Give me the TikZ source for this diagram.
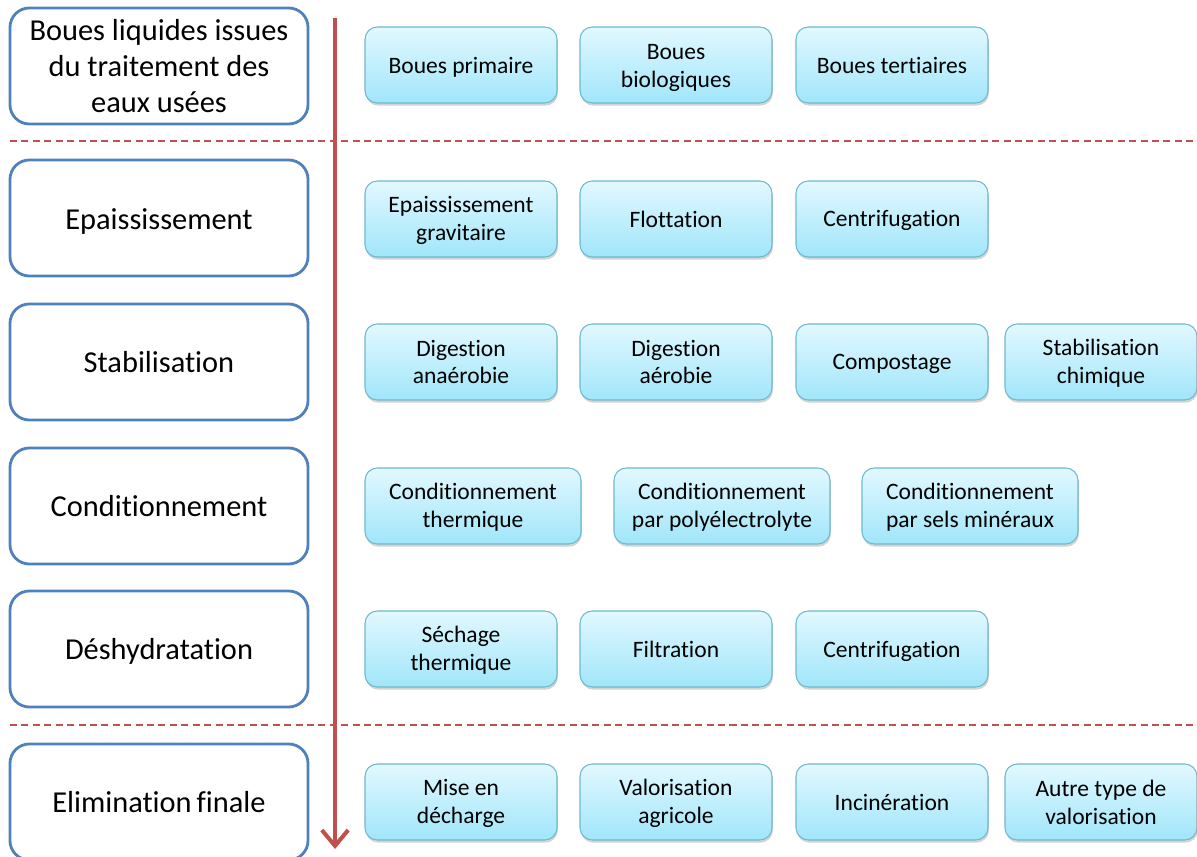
\documentclass[tikz,border=0pt]{standalone}
\usepackage{fontspec}
\setmainfont[Ligatures=NoCommon]{Carlito}
\usetikzlibrary{arrows.meta,shadows}

\definecolor{stageblue}{RGB}{79,129,189}
\definecolor{flowred}{RGB}{192,80,77}
\definecolor{boxtop}{RGB}{226,248,255}
\definecolor{boxbot}{RGB}{160,230,250}
\definecolor{boxline}{RGB}{110,185,205}

% lower the text inside a node, keeping the node's size
\newcommand{\lowr}[2][-1.1pt]{\raisebox{#1}[\height][\depth]{\begin{tabular}{@{}c@{}}#2\end{tabular}}}

\tikzset{
  stage/.style={draw=stageblue, line width=1.6pt, rounded corners=11pt, fill=white,
    minimum width=298*0.02cm, minimum height=116*0.02cm, align=center,
    font=\fontsize{17.3}{20.5}\selectfont},
  proc/.style={draw=boxline, line width=0.6pt, rounded corners=7pt,
    top color=boxtop, bottom color=boxbot,
    drop shadow={shadow xshift=0.5pt, shadow yshift=-1.5pt, opacity=0.35},
    minimum width=192*0.02cm, minimum height=76*0.02cm, align=center,
    font=\fontsize{13.4}{15.9}\selectfont},
  wideproc/.style={proc, minimum width=216*0.02cm},
  sep/.style={flowred, line width=0.8pt, dash pattern=on 4pt off 2.5pt}
}

\begin{document}
\begin{tikzpicture}[x=0.02cm,y=-0.02cm]
	\clip (0,0) rectangle (1197,857);
	\useasboundingbox (0,0) rectangle (1197,857);
	% stages on the left
	\node[stage] (sBoues) at (159,66) {Boues liquides issues\\du traitement des\\eaux usées};
	\node[stage] (sEpais) at (159,218) {\lowr[-2.3pt]{Epaississement}};
	\node[stage] (sStab) at (159,362) {Stabilisation};
	\node[stage] (sCond) at (159,506) {Conditionnement};
	\node[stage] (sDesh) at (159,649) {\lowr[-1.7pt]{Déshydratation}};
	\node[stage] (sElim) at (159,802) {Elimination\,finale};
	% separators
	\coordinate (sepAL) at (10,141);
	\coordinate (sepAR) at (1197,141);
	\coordinate (sepBL) at (10,725);
	\coordinate (sepBR) at (1197,725);
	\draw[sep] (sepAL) -- (sepAR);
	\draw[sep] (sepBL) -- (sepBR);
	% flow arrow
	\coordinate (flowTop) at (335,18);
	\coordinate (flowBot) at (335,849);
	\draw[flowred, line width=2.3pt, -{Straight Barb[length=9pt, width=15pt, line width=2.3pt]}] (flowTop) -- (flowBot);
	% processes
	\node[proc] (bPrim) at (461,65) {\lowr[-1.7pt]{Boues primaire}};
	\node[proc] (bBio) at (676,65) {\lowr[-1.7pt]{Boues\\biologiques}};
	\node[proc] (bTert) at (892,65) {Boues tertiaires};

	\node[proc] (eGrav) at (461,219) {\lowr{Epaississement\\gravitaire}};
	\node[proc] (eFlot) at (676,219) {Flottation};
	\node[proc] (eCent) at (892,219) {\lowr{Centrifugation}};

	\node[proc] (dAna) at (461,362) {Digestion\\anaérobie};
	\node[proc] (dAer) at (676,362) {Digestion\\aérobie};
	\node[proc] (dComp) at (892,362) {\lowr{Compostage}};
	\node[proc] (dChim) at (1101,362) {\lowr{Stabilisation\\chimique}};

	\node[wideproc] (cTher) at (473,506) {\lowr{Conditionnement\\thermique}};
	\node[wideproc] (cPoly) at (722,506) {\lowr{Conditionnement\\par polyélectrolyte}};
	\node[wideproc] (cSels) at (970,506) {\lowr{Conditionnement\\par sels minéraux}};

	\node[proc] (hSech) at (461,649) {\lowr{Séchage\\thermique}};
	\node[proc] (hFilt) at (676,649) {Filtration};
	\node[proc] (hCent) at (892,649) {\lowr[-1.7pt]{Centrifugation}};

	\node[proc] (fDech) at (461,802) {\lowr{Mise en\\décharge}};
	\node[proc] (fAgri) at (676,802) {\lowr{Valorisation\\agricole}};
	\node[proc] (fInci) at (892,802) {Incinération};
	\node[proc] (fAutr) at (1101,802) {Autre type de\\valorisation};
\end{tikzpicture}
\end{document}
